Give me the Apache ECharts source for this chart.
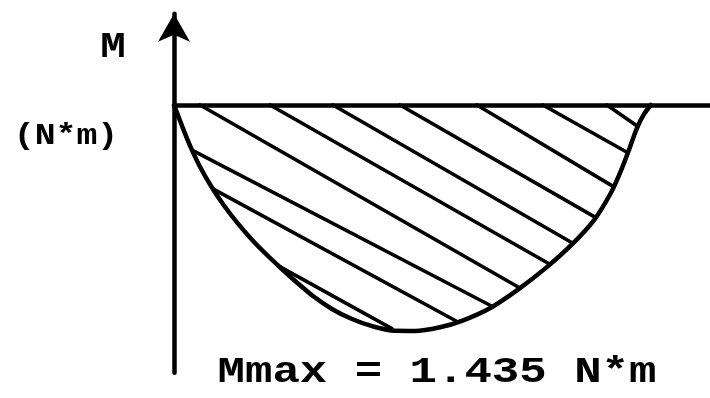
<!DOCTYPE html>
<html>
<head>
<meta charset="utf-8">
<script src="https://cdn.jsdelivr.net/npm/echarts@6/dist/echarts.min.js"></script>
<style>
  html, body { margin: 0; padding: 0; background: #fff; }
  #chart { width: 710px; height: 398px; }
</style>
</head>
<body>
<div id="chart"></div>
<script>
// Bending moment along the beam (x as a fraction of span length, M in N*m)
const positions = [0, 0.0084, 0.0210, 0.0356, 0.0545, 0.0776, 0.1048, 0.1342, 0.1635, 0.1929,
  0.2222, 0.2558, 0.2914, 0.3312, 0.3732, 0.4172, 0.4633, 0.5052, 0.5577, 0.6038,
  0.6625, 0.7212, 0.7799, 0.8344, 0.8805, 0.9161, 0.9371, 0.9539, 0.9706, 0.9853, 1.0];
const moments = [0, -0.066, -0.165, -0.272, -0.392, -0.514, -0.638, -0.753, -0.855, -0.946,
  -1.030, -1.122, -1.213, -1.295, -1.359, -1.406, -1.434, -1.435, -1.411, -1.370,
  -1.290, -1.172, -1.034, -0.885, -0.732, -0.559, -0.419, -0.287, -0.149, -0.060, 0];

// Hatching strokes inside the moment area: start and end points [x, M]
const hatchStart = [[0.9078, 0], [0.7736, 0], [0.6352, 0], [0.4738, 0], [0.3333, 0],
  [0.2013, 0], [0.0545, 0], [0.0398, -0.290], [0.0818, -0.533], [0.2180, -1.020]];
const hatchEnd = [[0.9727, -0.137], [0.9518, -0.303], [0.9224, -0.520], [0.8847, -0.715], [0.8365, -0.878],
  [0.7883, -1.011], [0.7254, -1.162], [0.6688, -1.281], [0.5954, -1.378], [0.4570, -1.420]];

const axisLabelM = 'M';
const unitLabel = '(N*m)';
const maxLabel = 'Mmax = 1.435 N*m';

const chart = echarts.init(document.getElementById('chart'), null, { renderer: 'canvas' });
const curveData = positions.map((x, i) => [x, moments[i]]);
const hatchData = hatchStart.map((s, i) => ({ coords: [s, hatchEnd[i]] }));
const FONT = '"Liberation Mono", "Courier New", monospace';

chart.setOption({
  animation: false,
  backgroundColor: '#ffffff',
  grid: { left: 174, right: 0, top: 13.65, bottom: 25.25, containLabel: false },
  xAxis: {
    type: 'value', min: 0, max: 1.124,
    axisLine: { onZero: true, lineStyle: { color: '#000', width: 4.5 } },
    axisTick: { show: false }, axisLabel: { show: false }, splitLine: { show: false }
  },
  yAxis: {
    type: 'value', min: -1.7, max: 0.58,
    axisLine: { show: true, onZero: false, symbol: ['none', 'arrow'], symbolSize: [24, 28],
      lineStyle: { color: '#000', width: 4.5 } },
    axisTick: { show: false }, axisLabel: { show: false }, splitLine: { show: false }
  },
  series: [
    {
      type: 'line', data: curveData, showSymbol: false, smooth: 0.3,
      lineStyle: { color: '#000', width: 4.5, join: 'round', cap: 'round' }, z: 3
    },
    {
      type: 'lines', coordinateSystem: 'cartesian2d', data: hatchData,
      lineStyle: { color: '#000', width: 3.6, opacity: 1, curveness: 0, cap: 'round' }, z: 2
    }
  ],
  graphic: [
    { type: 'text', x: 113, y: 48, scaleX: 1.15,
      style: { text: axisLabelM, font: 'bold 37px ' + FONT, fill: '#000', align: 'center', verticalAlign: 'middle' } },
    { type: 'text', x: 66, y: 137, scaleX: 1.2,
      style: { text: unitLabel, font: 'bold 29px ' + FONT, fill: '#000', align: 'center', verticalAlign: 'middle' } },
    { type: 'text', x: 437, y: 373, scaleX: 1.27,
      style: { text: maxLabel, font: 'bold 36px ' + FONT, fill: '#000', align: 'center', verticalAlign: 'middle' } }
  ]
});
</script>
</body>
</html>
